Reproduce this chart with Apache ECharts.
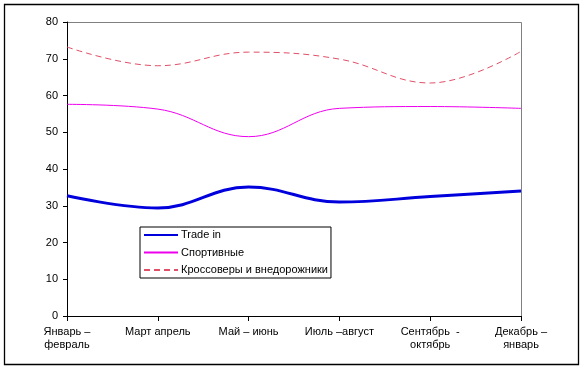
<!DOCTYPE html>
<html>
<head>
<meta charset="utf-8">
<script src="https://cdn.jsdelivr.net/npm/echarts@6/dist/echarts.min.js"></script>
<style>
html,body{margin:0;padding:0;background:#fff;}
#c{width:584px;height:369px;}
</style>
</head>
<body>
<div id="c"></div>
<script>
const categories = ['Январь –\nфевраль', 'Март апрель', 'Май – июнь', 'Июль –август', 'Сентябрь  -\nоктябрь', 'Декабрь –\nянварь'];
const tradeIn = [32.7, 29.4, 35.1, 31.0, 32.5, 34.0];
const sport = [57.6, 56.3, 48.8, 56.5, 57.0, 56.5];
const cross = [73.2, 68.1, 71.8, 69.9, 63.4, 72.0];
const yTicks = [0, 10, 20, 30, 40, 50, 60, 70, 80];

const chart = echarts.init(document.getElementById('c'), null, {renderer: 'canvas'});
const font = 'Liberation Sans, Arial, sans-serif';
chart.setOption({
  animation: false,
  backgroundColor: '#fff',
  graphic: [
    {type: 'rect', shape: {x: 4.5, y: 4.5, width: 574, height: 360}, style: {fill: 'none', stroke: '#000', lineWidth: 1.3}, z: -1},
    {type: 'polyline', shape: {points: [[67, 22.5], [521.5, 22.5], [521.5, 316]]}, style: {fill: 'none', stroke: '#808080', lineWidth: 1}, z: -1}
  ],
  grid: {left: 67, top: 22, width: 454, height: 294, containLabel: false},
  legend: {
    orient: 'vertical', left: 140, top: 227,
    backgroundColor: '#fff', borderColor: '#000', borderWidth: 1,
    padding: [1, 3, 1, 3],
    itemWidth: 34, itemHeight: 14, itemGap: 3.5,
    itemStyle: {opacity: 0},
    textStyle: {fontFamily: font, fontSize: 11, color: '#000', lineHeight: 14, padding: [0, 0, 0, -2]},
    data: ['Trade in', 'Спортивные', 'Кроссоверы и внедорожники']
  },
  xAxis: {
    type: 'category', data: categories, boundaryGap: false,
    axisLine: {lineStyle: {color: '#000', width: 1}},
    axisTick: {show: true, length: 5, inside: false, lineStyle: {color: '#000'}},
    axisLabel: {fontFamily: font, fontSize: 11, color: '#000', margin: 9, lineHeight: 13.5, interval: 0},
    splitLine: {show: false}
  },
  yAxis: {
    type: 'value', min: yTicks[0], max: yTicks[yTicks.length - 1], interval: 10,
    axisLine: {show: true, lineStyle: {color: '#000', width: 1}},
    axisTick: {show: true, length: 4, lineStyle: {color: '#000'}},
    axisLabel: {fontFamily: font, fontSize: 11, color: '#000', margin: 9},
    splitLine: {show: false}
  },
  series: [
    {name: 'Trade in', type: 'line', data: tradeIn, smooth: 0.4, symbol: 'none',
     lineStyle: {color: '#0000dd', width: 3}, itemStyle: {color: '#0000dd'}},
    {name: 'Спортивные', type: 'line', data: sport, smooth: 0.4, symbol: 'none',
     lineStyle: {color: '#ee00ee', width: 1}, itemStyle: {color: '#ee00ee'}},
    {name: 'Кроссоверы и внедорожники', type: 'line', data: cross, smooth: 0.4, symbol: 'none',
     lineStyle: {color: '#e05068', width: 1, type: [6, 4]}, itemStyle: {color: '#e05068'}}
  ]
});
</script>
</body>
</html>
